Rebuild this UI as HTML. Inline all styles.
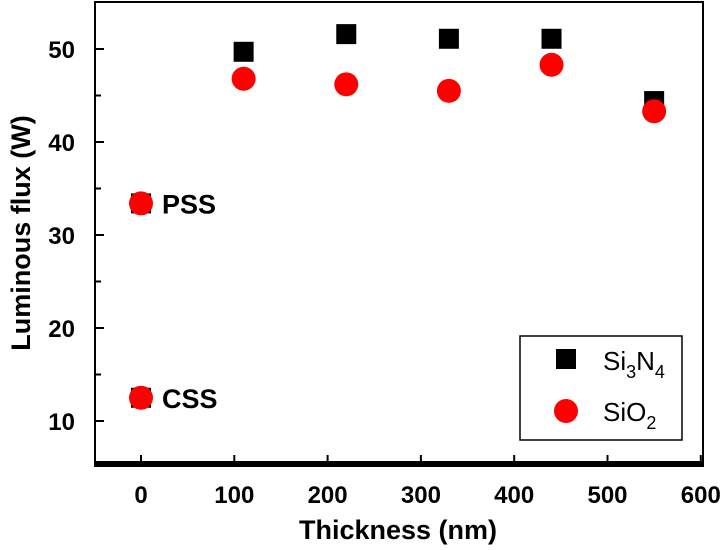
<!DOCTYPE html>
<html><head><meta charset="utf-8"><style>body{margin:0;background:#fff}svg{display:block;font-family:"Liberation Sans",Arial,sans-serif}</style></head>
<body>
<svg id="c" width="726" height="550"></svg>
<script>
const xTicks=[0,100,200,300,400,500,600];
const yTicks=[10,20,30,40,50];
const yMinor=[15,25,35,45];
const thickness=[110,220,330,440,550];
const si3n4=[49.7,51.6,51.1,51.1,44.4];
const sio2=[46.8,46.2,45.5,48.3,43.3];
const refX=[0,0];
const refVals=[33.4,12.5];
const refLabels=["PSS","CSS"];
const svg=document.getElementById('c');
const NS='http://www.w3.org/2000/svg';
const L=95,R=703,T=2,B=464;
const X=v=>141+v*0.933;
const Y=v=>421-(v-10)*9.3;
function mk(t,a,p){const e=document.createElementNS(NS,t);for(const k in a)e.setAttribute(k,a[k]);(p||svg).appendChild(e);return e;}
let e;
e=mk('rect',{x:L,y:T,width:R-L,height:B-T,fill:'none',stroke:'#000','stroke-width':2});


e=mk('line',{x1:L-1,x2:R+1,y1:B,y2:B,stroke:'#000','stroke-width':6});


xTicks.forEach(v=>{
 e=mk('line',{x1:X(v),x2:X(v),y1:B,y2:B-9,stroke:'#000','stroke-width':2});
 
 
 e=mk('text',{x:X(v),y:503,'text-anchor':'middle','font-size':24,'font-weight':'bold'});e.textContent=v;
 
 
});
yTicks.forEach(v=>{
 e=mk('line',{x1:L,x2:L+9,y1:Y(v),y2:Y(v),stroke:'#000','stroke-width':2});
 
 
 e=mk('text',{x:L-20,y:Y(v)+9,'text-anchor':'end','font-size':24,'font-weight':'bold'});e.textContent=v;
 
 
});
yMinor.forEach(v=>{
 e=mk('line',{x1:L,x2:L+6,y1:Y(v),y2:Y(v),stroke:'#000','stroke-width':2});
 
 
});
e=mk('text',{x:398,y:539,'text-anchor':'middle','font-size':27,'font-weight':'bold'});e.textContent='Thickness (nm)';


e=mk('text',{x:0,y:0,'text-anchor':'middle','font-size':27,'font-weight':'bold',transform:'translate(30,233) rotate(-90)'});e.textContent='Luminous flux (W)';


refX.forEach((x,i)=>{
 e=mk('rect',{x:X(x)-10,y:Y(refVals[i])-10,width:20,height:20,fill:'#000'});
 
 
 e=mk('circle',{cx:X(x),cy:Y(refVals[i]),r:12,fill:'#ff0000'});
 
 
 e=mk('text',{x:X(x)+21,y:Y(refVals[i])+10,'font-size':27,'font-weight':'bold'});e.textContent=refLabels[i];
 
 
});
thickness.forEach((x,i)=>{
 e=mk('rect',{x:X(x)-10,y:Y(si3n4[i])-10,width:20,height:20,fill:'#000'});
 
 
});
thickness.forEach((x,i)=>{
 e=mk('circle',{cx:X(x),cy:Y(sio2[i]),r:12,fill:'#ff0000'});
 
 
});
e=mk('rect',{x:520,y:336,width:162,height:104,fill:'#fff',stroke:'#000','stroke-width':1.5});


e=mk('rect',{x:556,y:349,width:20,height:20,fill:'#000'});


e=mk('text',{x:603,y:370,'font-size':26});e.innerHTML='Si<tspan font-size="18" dy="8">3</tspan><tspan dy="-8">N</tspan><tspan font-size="18" dy="8">4</tspan>';


e=mk('circle',{cx:566,cy:411,r:12,fill:'#ff0000'});


e=mk('text',{x:603,y:421,'font-size':26});e.innerHTML='SiO<tspan font-size="18" dy="8">2</tspan>';


</script>
</body></html>
